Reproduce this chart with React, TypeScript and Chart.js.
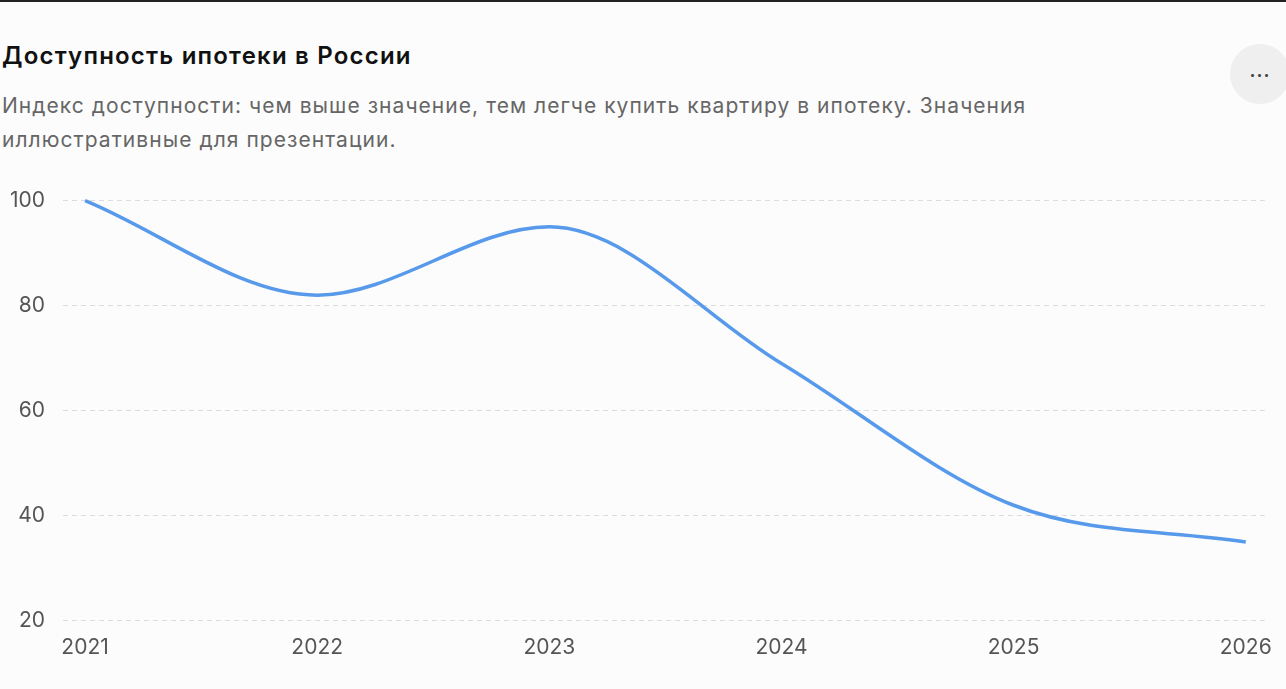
import React, { useEffect, useRef } from "react";
import { Chart, registerables } from "chart.js";

Chart.register(...registerables);

const years = [2021, 2022, 2023, 2024, 2025, 2026];
const affordability = [100, 82, 95, 69, 42, 35];
const yTicks = [20, 40, 60, 80, 100];

const TITLE = "Доступность ипотеки в России";
const SUBTITLE =
  "Индекс доступности: чем выше значение, тем легче купить квартиру в ипотеку. Значения иллюстративные для презентации.";

export default function App() {
  const canvasRef = useRef<HTMLCanvasElement | null>(null);

  useEffect(() => {
    if (!canvasRef.current) return;
    const chart = new Chart(canvasRef.current, {
      type: "line",
      data: {
        datasets: [
          {
            label: "Индекс доступности",
            data: years.map((y, i) => ({ x: y, y: affordability[i] })),
            borderColor: "#5799EA",
            borderWidth: 3.5,
            pointRadius: 0,
            pointHoverRadius: 0,
            cubicInterpolationMode: "monotone",
            tension: 0.4,
            fill: false,
            clip: false as any,
          },
        ],
      },
      options: {
        animation: false,
        responsive: true,
        maintainAspectRatio: false,
        layout: { padding: { top: 2, right: 19, bottom: 15, left: 0 } },
        plugins: {
          legend: { display: false },
          tooltip: { enabled: false },
        },
        scales: {
          x: {
            type: "linear",
            min: 2020.905,
            max: 2026.082,
            grid: { display: false, drawTicks: false },
            border: { display: false },
            afterBuildTicks: (scale: any) => {
              scale.ticks = years.map((v) => ({ value: v }));
            },
            ticks: {
              callback: (v: any) => String(v),
              color: "#555555",
              padding: 14,
              maxRotation: 0,
              autoSkip: false,
              font: { family: "Inter", size: 21 },
            },
          },
          y: {
            min: 20,
            max: 100,
            afterBuildTicks: (scale: any) => {
              scale.ticks = yTicks.map((v) => ({ value: v }));
            },
            afterFit: (scale: any) => {
              scale.width = 63;
            },
            grid: {
              color: "#dcdcdc",
              lineWidth: 1,
              drawTicks: false,
            },
            border: { display: false, dash: [5, 4] },
            ticks: {
              color: "#555555",
              padding: 18,
              font: { family: "Inter", size: 21 },
            },
          },
        },
      },
    });
    return () => chart.destroy();
  }, []);

  return (
    <div
      style={{
        position: "fixed",
        left: 0,
        top: 0,
        width: 1286,
        height: 689,
        background: "#fcfcfc",
        overflow: "hidden",
        fontFamily: "Inter, 'Noto Sans', sans-serif",
        borderTop: "2px solid #222",
        boxSizing: "border-box",
      }}
    >
      <div
        style={{
          position: "absolute",
          left: 2,
          top: 38,
          fontSize: 24,
          fontWeight: 600,
          color: "#111",
          lineHeight: "32px",
          letterSpacing: 1.2,
          whiteSpace: "nowrap",
        }}
      >
        {TITLE}
      </div>
      <div
        style={{
          position: "absolute",
          left: 2,
          top: 87,
          width: 1120,
          fontSize: 21,
          color: "#666",
          lineHeight: "34px",
          letterSpacing: 1.05,
        }}
      >
        {SUBTITLE}
      </div>
      <div
        style={{
          position: "absolute",
          left: 1230,
          top: 42,
          width: 60,
          height: 60,
          borderRadius: "50%",
          background: "#efefef",
          display: "flex",
          alignItems: "center",
          justifyContent: "center",
          color: "#444",
          fontSize: 18,
          fontWeight: 700,
          letterSpacing: 1,
          paddingBottom: 8,
          boxSizing: "border-box",
        }}
      >
        ...
      </div>
      <div
        style={{
          position: "absolute",
          left: 0,
          top: 168,
          width: 1286,
          height: 519,
        }}
      >
        <canvas ref={canvasRef} />
      </div>
    </div>
  );
}
